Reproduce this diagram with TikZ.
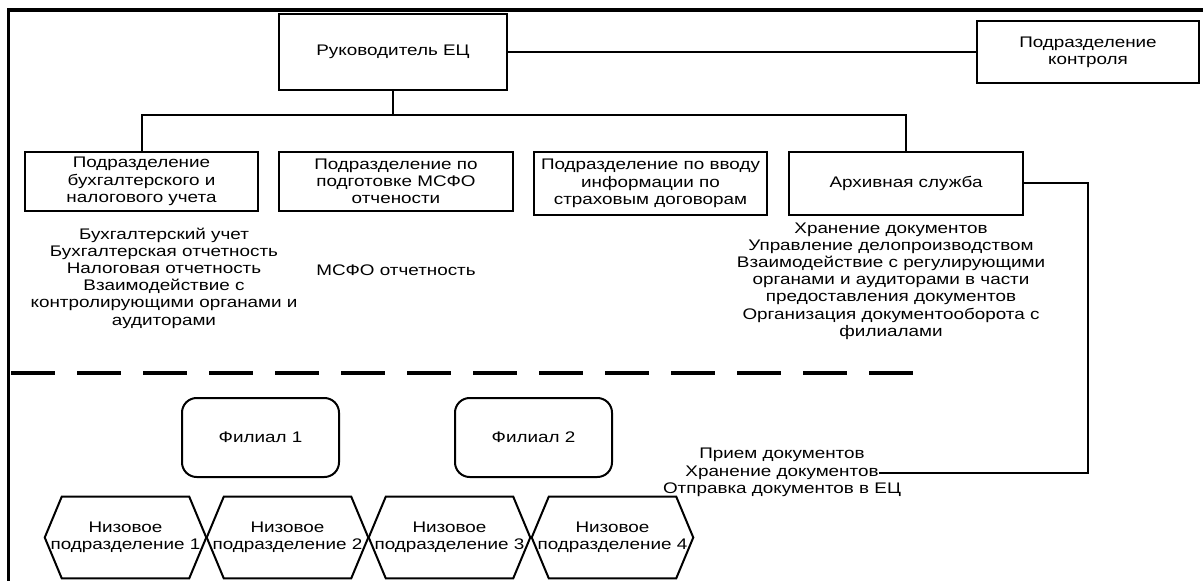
\documentclass[tikz,border=0pt]{standalone}
\usepackage{fontspec}
\setmainfont[FakeStretch=1.23]{Liberation Sans}
\usetikzlibrary{calc}
\newcommand\hexaround[1]{%
  \draw[hexline] (#1.west) -- ([xshift=12.75pt]#1.north west) -- ([xshift=-12.75pt]#1.north east)
    -- (#1.east) -- ([xshift=-12.75pt]#1.south east) -- ([xshift=12.75pt]#1.south west) -- cycle;}
\begin{document}
\begin{tikzpicture}[x=0.75pt,y=-0.75pt,
  every node/.style={font=\fontsize{11.5pt}{12.9pt}\selectfont, inner sep=0pt, align=center},
  box/.style={draw, line width=1.5pt, rectangle},
  filial/.style={draw, line width=1.5pt, rectangle, rounded corners=11pt,
    minimum width=117.75pt, minimum height=59.25pt},
  hexnode/.style={minimum width=120.75pt, minimum height=60.75pt},
  hexline/.style={line width=1.5pt, line join=miter},
  conn/.style={line width=1.5pt},
  frame/.style={line width=2.6pt},
  sep/.style={line width=2.3pt, dash pattern=on 33pt off 16.5pt}]
\useasboundingbox (0,0) rectangle (1203,581);
% outer frame (top and left visible)
\draw[frame] (8.3,600) -- (8.3,10) -- (1215,10);
% top level
\node[box, minimum width=171pt, minimum height=57pt] (head) at (393,52) {Руководитель ЕЦ};
\node[box, minimum width=166.5pt, minimum height=46.5pt] (ctrl) at (1088,52) {Подразделение\\контроля};
% departments
\node[box, minimum width=174.75pt, minimum height=44.25pt] (b1) at (141.5,181.5)
  {Подразделение\\бухгалтерского и\\налогового учета};
\node[box, minimum width=175.5pt, minimum height=44.25pt] (b2) at (396,181.5)
  {Подразделение по\\подготовке МСФО\\отчености};
\node[box, minimum width=174.75pt, minimum height=47.25pt] (b3) at (650.5,183.5)
  {Подразделение по вводу\\информации по\\страховым договорам};
\node[box, minimum width=175.5pt, minimum height=47.25pt] (b4) at (906,183.5)
  {Архивная служба};
% descriptions
\node (d1) at (164,278) {Бухгалтерский учет\\Бухгалтерская отчетность\\Налоговая отчетность\\Взаимодействие с\\контролирующими органами и\\аудиторами};
\node (d2) at (396,270) {МСФО отчетность};
\node (d4) at (891,281) {Хранение документов\\Управление делопроизводством\\Взаимодействие с регулирующими\\органами и аудиторами в части\\предоставления документов\\Организация документооборота с\\филиалами};
% connectors
\coordinate (busy) at (0,115);
\draw[conn] (head.east) -- (ctrl.west);
\draw[conn] (head.south) -- (head.south |- busy);
\draw[conn] (b1.north) |- (b4.north |- busy) -- (b4.north);
% separator
\draw[sep] (11,373) -- (913,373);
% branches
\node[filial] (f1) at (260.5,437.5) {Филиал 1};
\node[filial] (f2) at (533.5,437.5) {Филиал 2};
% branch duties
\node (t1) at (782,455) {Прием документов};
\node (t2) at (782,472.5) {Хранение документов};
\node (t3) at (782,490) {Отправка документов в ЕЦ};
\coordinate (arcv) at (1088,183.5);
\draw[conn] (b4.east) -- (arcv) |- (t2.east);
% lower units
\node[hexnode] (h1) at (125.5,537.5) {Низовое\\подразделение 1};
\node[hexnode] (h2) at (287.5,537.5) {Низовое\\подразделение 2};
\node[hexnode] (h3) at (449.5,537.5) {Низовое\\подразделение 3};
\node[hexnode] (h4) at (612.5,537.5) {Низовое\\подразделение 4};
\hexaround{h1}
\hexaround{h2}
\hexaround{h3}
\hexaround{h4}
\end{tikzpicture}
\end{document}
